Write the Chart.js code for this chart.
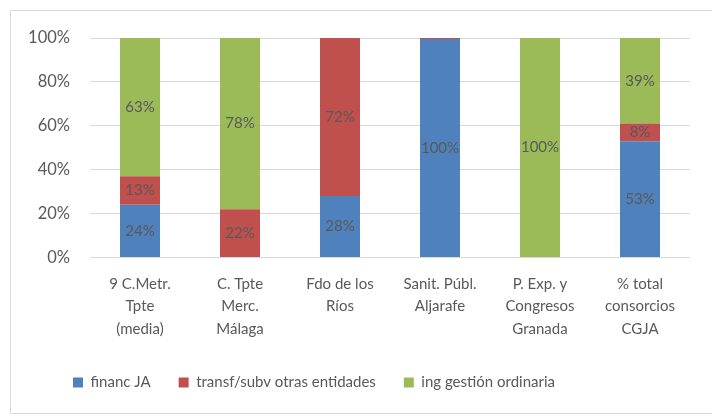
<!DOCTYPE html>
<html>
<head>
<meta charset="utf-8">
<script src="https://cdn.jsdelivr.net/npm/chart.js@4"></script>
<style>
  body { margin: 0; background: #fff; }
  #frame { position: absolute; left: 10px; top: 10px; width: 710px; height: 402px; border: 1px solid #d9d9d9; }
  #c { position: absolute; left: 0; top: 0; }
</style>
</head>
<body>
<div id="frame"></div>
<canvas id="c" width="712" height="415"></canvas>
<script>
const categories = [
    ["9 C.Metr.", "Tpte", "(media)"],
    ["C. Tpte", "Merc.", "Málaga"],
    ["Fdo de los", "Ríos"],
    ["Sanit. Públ.", "Aljarafe"],
    ["P. Exp. y", "Congresos", "Granada"],
    ["% total", "consorcios", "CGJA"]
];
const financJA = [24, 0, 28, 99.6, 0, 53];
const transfSubv = [13, 22, 72, 0.4, 0, 8];
const ingGestion = [63, 78, 0, 0, 100, 39];
const yTicks = [0, 20, 40, 60, 80, 100];

const FONT = "Lato, 'Open Sans', sans-serif";
const GREY = "#595959";

// etiquetas de valor en el centro de cada segmento
const segmentLabels = {
    id: "segmentLabels",
    afterLayout(chart) {
        // la leyenda de Excel queda algo a la izquierda
        chart.legend.left -= 36;
        chart.legend.right -= 36;
    },
    afterDatasetsDraw(chart) {
        const ctx = chart.ctx;
        ctx.save();
        ctx.font = "15px " + FONT;
        ctx.fillStyle = GREY;
        ctx.textAlign = "center";
        ctx.textBaseline = "middle";
        chart.data.datasets.forEach((ds, i) => {
            chart.getDatasetMeta(i).data.forEach((bar, j) => {
                const v = ds.data[j];
                if (v < 1) return;
                ctx.fillText(Math.round(v) + "%", bar.x, (bar.y + bar.base) / 2);
            });
        });
        ctx.restore();
    }
};

new Chart(document.getElementById("c"), {
    type: "bar",
    data: {
        labels: categories,
        datasets: [
            { label: "financ JA", data: financJA, backgroundColor: "#4f81bd" },
            { label: "transf/subv otras entidades", data: transfSubv, backgroundColor: "#c0504d" },
            { label: "ing gestión ordinaria", data: ingGestion, backgroundColor: "#9bbb59" }
        ]
    },
    options: {
        responsive: false,
        animation: false,
        layout: { padding: { left: 10, right: 22, top: 38, bottom: 15 } },
        datasets: { bar: { barPercentage: 0.4, categoryPercentage: 1 } },
        plugins: {
            tooltip: { enabled: false },
            legend: {
                position: "bottom",
                labels: {
                    color: GREY,
                    font: { family: FONT, size: 15 },
                    boxWidth: 10,
                    boxHeight: 10,
                    padding: 28
                }
            }
        },
        scales: {
            x: {
                stacked: true,
                grid: { display: false },
                border: { display: false },
                ticks: { color: GREY, font: { family: FONT, size: 15, lineHeight: 1.5 }, maxRotation: 0, autoSkip: false, padding: 7 }
            },
            y: {
                stacked: true,
                min: 0,
                max: 100,
                afterFit: s => { s.width = 80; },
                afterBuildTicks: s => { s.ticks = yTicks.map(v => ({ value: v })); },
                grid: { color: "#d9d9d9", drawTicks: false },
                border: { display: false },
                ticks: { color: GREY, font: { family: FONT, size: 16.5 }, padding: 20, callback: v => v + "%" }
            }
        }
    },
    plugins: [segmentLabels]
});
</script>
</body>
</html>
